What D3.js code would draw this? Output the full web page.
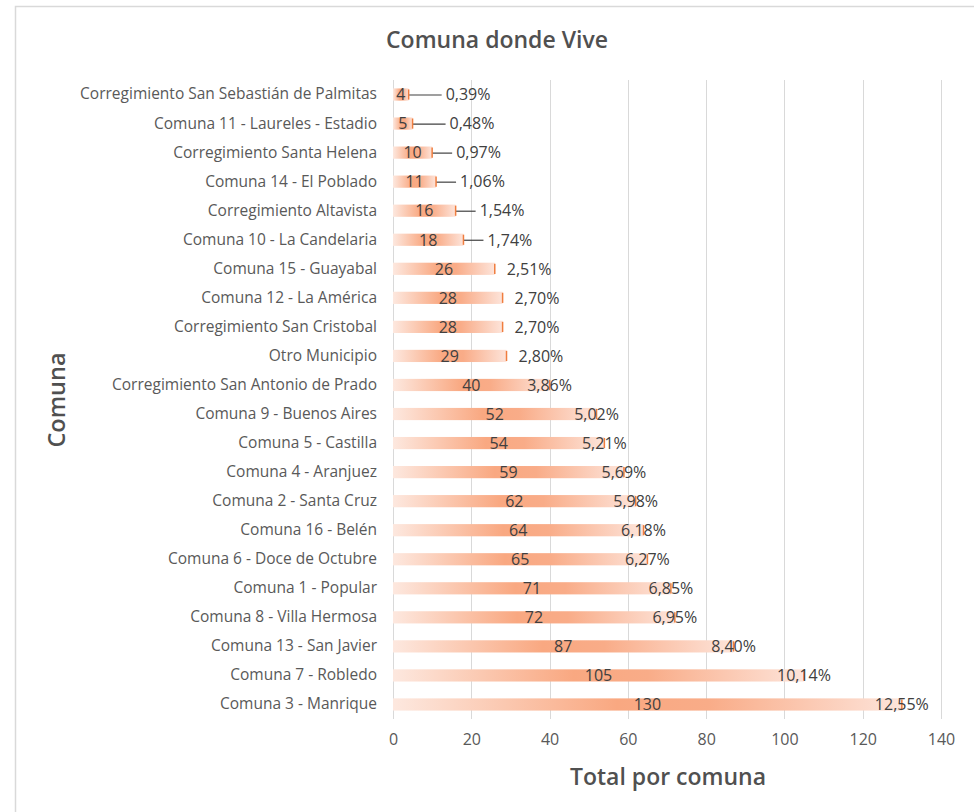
<!DOCTYPE html>
<html>
<head>
<meta charset="utf-8">
<script src="https://cdn.jsdelivr.net/npm/d3@7"></script>
<style>
  body { margin: 0; background: #fff; }
  text { font-family: "Open Sans", Carlito, Calibri, sans-serif; }
</style>
</head>
<body>
<div id="chart"></div>
<script>
const comunas = [
  "Corregimiento San Sebastián de Palmitas",
  "Comuna 11 - Laureles - Estadio",
  "Corregimiento Santa Helena",
  "Comuna 14 - El Poblado",
  "Corregimiento Altavista",
  "Comuna 10 - La Candelaria",
  "Comuna 15 - Guayabal",
  "Comuna 12 - La América",
  "Corregimiento San Cristobal",
  "Otro Municipio",
  "Corregimiento San Antonio de Prado",
  "Comuna 9 - Buenos Aires",
  "Comuna 5 - Castilla",
  "Comuna 4 - Aranjuez",
  "Comuna 2 - Santa Cruz",
  "Comuna 16 - Belén",
  "Comuna 6 - Doce de Octubre",
  "Comuna 1 - Popular",
  "Comuna 8 - Villa Hermosa",
  "Comuna 13 - San Javier",
  "Comuna 7 - Robledo",
  "Comuna 3 - Manrique"
];
const totales = [4, 5, 10, 11, 16, 18, 26, 28, 28, 29, 40, 52, 54, 59, 62, 64, 65, 71, 72, 87, 105, 130];
const porcentajes = ["0,39%", "0,48%", "0,97%", "1,06%", "1,54%", "1,74%", "2,51%", "2,70%", "2,70%", "2,80%",
  "3,86%", "5,02%", "5,21%", "5,69%", "5,98%", "6,18%", "6,27%", "6,85%", "6,95%", "8,40%", "10,14%", "12,55%"];
const xTicks = [0, 20, 40, 60, 80, 100, 120, 140];

const width = 974, height = 812;
const margin = {top: 80, right: 33, bottom: 93, left: 393};
const visWidth = width - margin.left - margin.right;
const visHeight = height - margin.top - margin.bottom;

const data = comunas.map((c, i) => ({comuna: c, total: totales[i], pct: porcentajes[i]}));

const svg = d3.select("#chart").append("svg")
  .attr("width", width).attr("height", height);

// chart area border
svg.append("path")
  .attr("d", `M15.5,${height} V6.5 H${width}`)
  .attr("fill", "none").attr("stroke", "#d9d9d9").attr("stroke-width", 1.5);

const defs = svg.append("defs");
const grad = defs.append("linearGradient").attr("id", "barGrad")
  .attr("x1", "0%").attr("x2", "100%").attr("y1", "0%").attr("y2", "0%");
grad.append("stop").attr("offset", "0%").attr("stop-color", "#fde8df");
grad.append("stop").attr("offset", "44%").attr("stop-color", "#f9a881");
grad.append("stop").attr("offset", "62%").attr("stop-color", "#f9ac88");
grad.append("stop").attr("offset", "100%").attr("stop-color", "#fde4da");

const g = svg.append("g").attr("transform", `translate(${margin.left}, ${margin.top})`);

let x = d3.scaleLinear().domain([0, 140]).range([0, visWidth]);
let y = d3.scaleBand().domain(comunas).range([0, visHeight]).paddingInner(0.58).paddingOuter(0.29);

// gridlines
g.selectAll(".grid")
  .data(xTicks)
  .join("line")
    .attr("class", "grid")
    .attr("x1", d => Math.round(x(d)) + 0.5).attr("x2", d => Math.round(x(d)) + 0.5)
    .attr("y1", 0).attr("y2", visHeight)
    .attr("stroke", "#d9d9d9").attr("stroke-width", 1);

// bars
g.selectAll(".bar")
  .data(data)
  .join("rect")
    .attr("class", "bar")
    .attr("x", 0)
    .attr("y", d => y(d.comuna))
    .attr("width", d => x(d.total))
    .attr("height", y.bandwidth())
    .attr("fill", "url(#barGrad)");

// where the percent label sits: centred on the bar end, pushed right for short bars
function labelGap(v) {
  if (v <= 5) return 37;
  if (v < 20) return 24;
  if (v < 35) return 12;
  return null;
}

// leader lines for labels moved away
g.selectAll(".leader")
  .data(data.filter(d => labelGap(d.total) > 15))
  .join("line")
    .attr("class", "leader")
    .attr("x1", d => x(d.total)).attr("x2", d => x(d.total) + labelGap(d.total) - 4)
    .attr("y1", d => y(d.comuna) + y.bandwidth() / 2 + 0.5)
    .attr("y2", d => y(d.comuna) + y.bandwidth() / 2 + 0.5)
    .attr("stroke", "#404040").attr("stroke-width", 1.2);

// small tick at bar end
g.selectAll(".endtick")
  .data(data)
  .join("line")
    .attr("class", "endtick")
    .attr("x1", d => x(d.total)).attr("x2", d => x(d.total))
    .attr("y1", d => y(d.comuna) + 1)
    .attr("y2", d => y(d.comuna) + y.bandwidth() - 1)
    .attr("stroke", "#f07d3e").attr("stroke-width", 1.5);

// count labels
g.selectAll(".count")
  .data(data)
  .join("text")
    .attr("class", "count")
    .attr("x", d => x(d.total) / 2)
    .attr("y", d => y(d.comuna) + y.bandwidth() / 2)
    .attr("dy", "0.36em")
    .attr("text-anchor", "middle")
    .attr("fill", "#404040")
    .style("font-size", "16px")
    .text(d => d.total);

// percent labels
g.selectAll(".pct")
  .data(data)
  .join("text")
    .attr("class", "pct")
    .attr("x", d => labelGap(d.total) === null ? x(d.total) : x(d.total) + labelGap(d.total))
    .attr("y", d => y(d.comuna) + y.bandwidth() / 2)
    .attr("dy", "0.36em")
    .attr("text-anchor", d => labelGap(d.total) === null ? "middle" : "start")
    .attr("fill", "#404040")
    .style("font-size", "16px")
    .text(d => d.pct);

// y axis labels
const yAxis = g.append("g")
  .call(d3.axisLeft(y).tickSize(0).tickPadding(16));
yAxis.select(".domain").remove();
yAxis.selectAll("text")
  .attr("fill", "#595959")
  .style("font-size", "15.5px")
  .style("font-family", "'Open Sans', Carlito, Calibri, sans-serif");

// x axis
const xAxis = g.append("g")
  .attr("transform", `translate(0, ${visHeight})`)
  .call(d3.axisBottom(x).tickValues(xTicks).tickSize(0).tickPadding(15));
xAxis.select(".domain").remove();
xAxis.selectAll("text")
  .attr("fill", "#595959")
  .style("font-size", "16px")
  .style("font-family", "'Open Sans', Carlito, Calibri, sans-serif");

// titles
svg.append("text")
  .attr("x", 497).attr("y", 40)
  .attr("dy", "0.35em")
  .attr("text-anchor", "middle")
  .attr("fill", "#505050")
  .style("font-size", "23px").style("font-weight", "600")
  .text("Comuna donde Vive");

svg.append("text")
  .attr("transform", `translate(57, 400) rotate(-90)`)
  .attr("dy", "0.35em")
  .attr("text-anchor", "middle")
  .attr("fill", "#505050")
  .style("font-size", "23.5px").style("font-weight", "600")
  .text("Comuna");

svg.append("text")
  .attr("x", margin.left + visWidth / 2 + 1).attr("y", 777)
  .attr("dy", "0.35em")
  .attr("text-anchor", "middle")
  .attr("fill", "#505050")
  .style("font-size", "23px").style("font-weight", "600")
  .text("Total por comuna");
</script>
</body>
</html>
